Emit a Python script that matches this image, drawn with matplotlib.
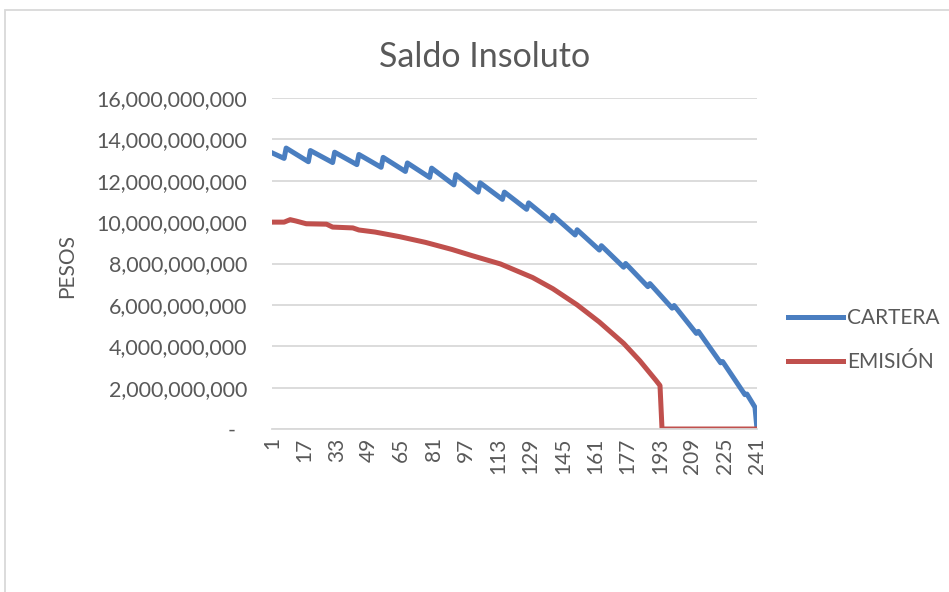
import matplotlib
matplotlib.use("Agg")
import matplotlib.pyplot as plt
from matplotlib.ticker import FuncFormatter
from matplotlib.patches import Rectangle

# saldo insoluto en miles de millones de pesos, vertices
periodos_cartera = [1, 7, 8, 19, 20, 31, 32, 43, 44, 55, 56, 67, 68, 79, 80,
                    91, 92, 103, 104, 115, 116, 127, 128, 139, 140, 151, 152,
                    163, 164, 175, 176, 187, 188, 199, 200, 211, 212, 223, 224,
                    235, 236, 240, 241]
saldo_cartera = [13.35, 13.08, 13.58, 12.92, 13.46, 12.88, 13.38, 12.78, 13.27,
                 12.65, 13.13, 12.45, 12.86, 12.16, 12.61, 11.80, 12.30, 11.45,
                 11.90, 11.10, 11.45, 10.62, 10.93, 10.05, 10.33, 9.38, 9.63,
                 8.65, 8.86, 7.82, 8.00, 6.88, 7.03, 5.84, 5.97, 4.62, 4.72,
                 3.20, 3.26, 1.66, 1.69, 1.05, 0.0]

periodos_emision = [1, 7, 10, 13, 18, 28, 31, 41, 44, 52, 64, 77, 90, 100, 114,
                    130, 140, 152, 163, 175, 183, 191, 193, 194, 241]
saldo_emision = [10.00, 10.00, 10.12, 10.05, 9.92, 9.90, 9.76, 9.72, 9.62, 9.52,
                 9.30, 9.02, 8.68, 8.38, 7.98, 7.32, 6.78, 6.00, 5.17, 4.14,
                 3.30, 2.35, 2.10, 0.0, 0.0]

etiquetas_x = list(range(1, 242, 16))
ticks_y = list(range(0, 17, 2))

gris = "#595959"
fuente = "Lato"
plt.rcParams["font.family"] = [fuente, "DejaVu Sans"]

fig = plt.figure(figsize=(9.49, 5.92), dpi=100)
ax = fig.add_axes([272 / 949, 1 - 429 / 592, (757 - 272) / 949, (429 - 98) / 592])

ax.plot(periodos_cartera, [v * 1e9 for v in saldo_cartera], color="#4A7EC0",
        lw=3.6, label="CARTERA", solid_joinstyle="round")
ax.plot(periodos_emision, [v * 1e9 for v in saldo_emision], color="#C0504D",
        lw=3.6, label="EMISIÓN", solid_joinstyle="round")

ax.set_xlim(1, 241)
ax.set_ylim(0, 16e9)
ax.set_xticks(etiquetas_x)
ax.set_xticklabels([str(e) for e in etiquetas_x], rotation=90)
ax.set_yticks([t * 1e9 for t in ticks_y])
ax.yaxis.set_major_formatter(FuncFormatter(lambda v, _: "-  " if v == 0 else f"{v:,.0f}"))
ax.tick_params(axis="y", length=0, pad=18, labelsize=15.5, labelcolor=gris)
ax.tick_params(axis="x", length=0, pad=6, labelsize=15, labelcolor=gris)

ax.grid(axis="y", color="#d9d9d9", lw=1.3)
ax.set_axisbelow(True)
for s in ["top", "right", "left"]:
    ax.spines[s].set_visible(False)
ax.spines["bottom"].set_color("#d9d9d9")
ax.spines["bottom"].set_linewidth(1.3)

fig.text(485 / 949, 1 - 57 / 592, "Saldo Insoluto", ha="center", va="center",
         fontsize=24.5, color=gris)
fig.text(67 / 949, 1 - 266 / 592, "PESOS", ha="center", va="center",
         rotation=90, fontsize=15, color=gris)

ax.legend(loc="center left", bbox_to_anchor=(788 / 949, 1 - 340 / 592),
          bbox_transform=fig.transFigure, frameon=False, fontsize=15,
          labelcolor=gris, handlelength=2.65, handletextpad=0.2,
          labelspacing=1.15, borderpad=0, borderaxespad=0)

# borde del area del grafico
fig.add_artist(Rectangle((5 / 949, -0.5), 2, 0.5 + 1 - 10 / 592,
                         transform=fig.transFigure, fill=False,
                         edgecolor="#d9d9d9", lw=1.3))

fig.savefig("out.png", dpi=100)
